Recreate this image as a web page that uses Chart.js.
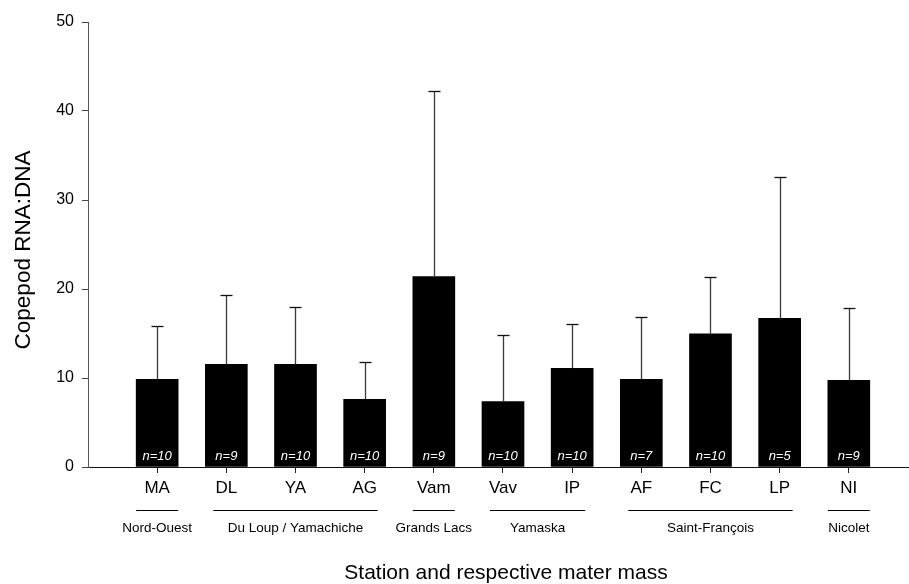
<!DOCTYPE html>
<html>
<head>
<meta charset="utf-8">
<script src="https://cdn.jsdelivr.net/npm/chart.js@4/dist/chart.umd.min.js"></script>
<style>
html,body{margin:0;padding:0;background:#fff;overflow:hidden;}
#wrap{width:909px;height:584px;}
</style>
</head>
<body>
<div id="wrap"><canvas id="c" width="909" height="584"></canvas></div>
<script>
const stations = ['MA','DL','YA','AG','Vam','Vav','IP','AF','FC','LP','NI'];
const meanRatio = [9.85, 11.55, 11.55, 7.6, 21.4, 7.35, 11.1, 9.85, 14.95, 16.7, 9.75];
const errorTop = [15.8, 19.35, 18.0, 11.85, 42.2, 14.8, 16.05, 16.9, 21.35, 32.55, 17.9];
const sampleN = ['n=10','n=9','n=10','n=10','n=9','n=10','n=10','n=7','n=10','n=5','n=9'];
const groupNames = ['Nord-Ouest','Du Loup / Yamachiche','Grands Lacs','Yamaska','Saint-François','Nicolet'];
const groupFirst = [0, 1, 4, 5, 7, 10];
const groupLast  = [0, 3, 4, 6, 9, 10];
const yTicks = [0, 10, 20, 30, 40, 50];
const xTitle = 'Station and respective mater mass';
const yTitle = 'Copepod RNA:DNA';

const FONT = "'Liberation Sans', Arial, sans-serif";

const extras = {
  id: 'extras',
  afterDatasetsDraw(chart) {
    const ctx = chart.ctx;
    const xs = chart.scales.x, ys = chart.scales.y;
    ctx.save();
    // error bars (upper only)
    errorTop.forEach((e, i) => {
      const x = Math.round(xs.getPixelForValue(i + 1)) + 0.5;
      const yb = ys.getPixelForValue(meanRatio[i]);
      const yt = Math.round(ys.getPixelForValue(e)) + 0.5;
      ctx.strokeStyle = '#3a3a3a';
      ctx.lineWidth = 1.3;
      ctx.beginPath(); ctx.moveTo(x, yb); ctx.lineTo(x, yt); ctx.stroke();
      ctx.strokeStyle = '#111';
      ctx.beginPath(); ctx.moveTo(x - 6, yt); ctx.lineTo(x + 6, yt); ctx.stroke();
    });
    // n labels
    ctx.fillStyle = '#fff';
    ctx.font = 'italic 13px ' + FONT;
    ctx.textAlign = 'center';
    ctx.textBaseline = 'middle';
    sampleN.forEach((t, i) => {
      ctx.fillText(t, xs.getPixelForValue(i + 1), ys.getPixelForValue(0) - 11);
    });
    // group lines & names
    ctx.strokeStyle = '#000';
    ctx.lineWidth = 1.2;
    ctx.fillStyle = '#000';
    ctx.font = '13.5px ' + FONT;
    groupNames.forEach((g, k) => {
      const a = xs.getPixelForValue(groupFirst[k] + 1);
      const b = xs.getPixelForValue(groupLast[k] + 1);
      const ext = groupFirst[k] === groupLast[k] ? 21 : 13;
      const y = 510.5;
      ctx.beginPath(); ctx.moveTo(a - ext, y); ctx.lineTo(b + ext, y); ctx.stroke();
      ctx.fillText(g, (a + b) / 2, 528);
    });
    // axis titles
    ctx.font = '21px ' + FONT;
    ctx.fillText(xTitle, 506, 573);
    ctx.translate(24, 250);
    ctx.rotate(-Math.PI / 2);
    ctx.font = '22.5px ' + FONT;
    ctx.fillText(yTitle, 0, 0);
    ctx.restore();
  }
};

new Chart(document.getElementById('c'), {
  type: 'bar',
  data: {
    datasets: [{
      data: meanRatio.map((v, i) => ({ x: i + 1, y: v })),
      backgroundColor: '#000',
      borderWidth: 0,
      barThickness: 42
    }]
  },
  options: {
    responsive: false,
    animation: false,
    devicePixelRatio: 1,
    layout: { padding: { top: 22, right: 0, bottom: 0, left: 0 } },
    plugins: { legend: { display: false }, tooltip: { enabled: false } },
    scales: {
      x: {
        type: 'linear',
        min: 0,
        max: 11.87,
        offset: false,
        afterBuildTicks(s) { s.ticks = stations.map((_, i) => ({ value: i + 1 })); },
        afterFit(s) { s.height = 117; },
        ticks: {
          autoSkip: false, maxRotation: 0, minRotation: 0,
          color: '#000', font: { family: FONT, size: 17 }, padding: 5,
          callback: (v) => stations[v - 1]
        },
        grid: { offset: false, drawOnChartArea: false, drawTicks: true, tickLength: 6, color: '#222', lineWidth: 1 },
        border: { display: true, color: '#111', width: 1 }
      },
      y: {
        min: 0, max: 50,
        afterBuildTicks(s) { s.ticks = yTicks.map(v => ({ value: v })); },
        afterFit(s) { s.width = 88; },
        ticks: { color: '#000', font: { family: FONT, size: 16 }, padding: 8 },
        grid: { drawOnChartArea: false, drawTicks: true, tickLength: 6, color: '#444', lineWidth: 1 },
        border: { display: true, color: '#555', width: 1 }
      }
    }
  },
  plugins: [extras]
});
</script>
</body>
</html>
